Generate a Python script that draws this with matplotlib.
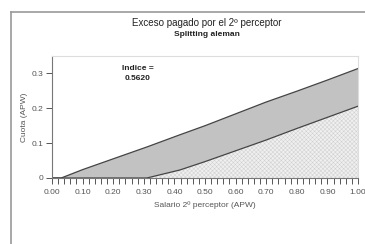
import matplotlib.pyplot as plt
import numpy as np

plt.rcParams['font.family'] = ['Liberation Sans', 'DejaVu Sans']
plt.rcParams['hatch.linewidth'] = 0.35

# values
salario = [0.0, 0.03, 0.10, 0.20, 0.31, 0.418, 0.50, 0.60, 0.70, 0.80, 0.90, 1.00]
cuota_total = [0.0, 0.0, 0.024, 0.055, 0.089, 0.124, 0.150, 0.184, 0.218, 0.249, 0.281, 0.314]
cuota_base = [0.0, 0.0, 0.0, 0.0, 0.0, 0.023, 0.047, 0.078, 0.109, 0.142, 0.174, 0.206]
indice = '0.5620'
xticks = [0.0, 0.1, 0.2, 0.3, 0.4, 0.5, 0.6, 0.7, 0.8, 0.9, 1.0]
yticks = [0.0, 0.1, 0.2, 0.3]

fig = plt.figure(figsize=(3.65, 2.44), dpi=100)

# outer frame: background axes showing only its left and top edges
x0, y0 = 10.5 / 365, 1 - 11.5 / 244
bg = fig.add_axes([x0, 0, 1 - x0, y0])
bg.set_xticks([])
bg.set_yticks([])
bg.patch.set_visible(False)
for side in ['right', 'bottom']:
    bg.spines[side].set_visible(False)
for side in ['left', 'top']:
    bg.spines[side].set_color('#999999')
    bg.spines[side].set_linewidth(1.2)

ax = fig.add_axes([52 / 365, 1 - 178 / 244, 306 / 365, 122 / 244])

ax.fill_between(salario, cuota_base, cuota_total, facecolor='#c2c2c2', edgecolor='none')
ax.fill_between(salario, 0, cuota_base, facecolor='#f0f0f0', edgecolor='#cfcfcf',
                hatch='xxxxxxxx', linewidth=0)
ax.plot(salario, cuota_total, color='#444444', linewidth=0.9)
ax.plot(salario, cuota_base, color='#444444', linewidth=0.9)

ax.set_xlim(0, 1)
ax.set_ylim(0, 0.35)
ax.set_xticks(xticks)
ax.set_xticklabels(['%.2f' % v for v in xticks])
ax.set_xticks(np.arange(0, 1.001, 0.02), minor=True)
ax.set_yticks(yticks)
ax.set_yticklabels(['0', '0.1', '0.2', '0.3'])
ax.tick_params(axis='both', labelsize=6, colors='#555555', length=4, width=0.7, pad=2)
ax.tick_params(axis='x', which='minor', length=4, width=0.7, colors='#555555')
ax.tick_params(axis='x', pad=4)

for side in ['left', 'bottom']:
    ax.spines[side].set_color('#777777')
    ax.spines[side].set_linewidth(0.8)
for side in ['top', 'right']:
    ax.spines[side].set_color('#dddddd')
    ax.spines[side].set_linewidth(0.8)

ax.set_xlabel('Salario 2º perceptor (APW)', fontsize=6, color='#555555', labelpad=4)
ax.set_ylabel('Cuota (APW)', fontsize=6, color='#555555', labelpad=3)

ax.text(0.28, 0.30, 'Indice =\n' + indice, fontsize=6, fontweight='bold',
        ha='center', va='center', linespacing=1.6, color='#222222')

fig.text(207 / 365, 1 - 23 / 244, 'Exceso pagado por el 2º perceptor',
         fontsize=7, ha='center', va='center', color='#222222')
fig.text(207 / 365, 1 - 35 / 244, 'Splitting aleman',
         fontsize=6, fontweight='bold', ha='center', va='center', color='#222222')

fig.savefig('out.png', dpi=100)
